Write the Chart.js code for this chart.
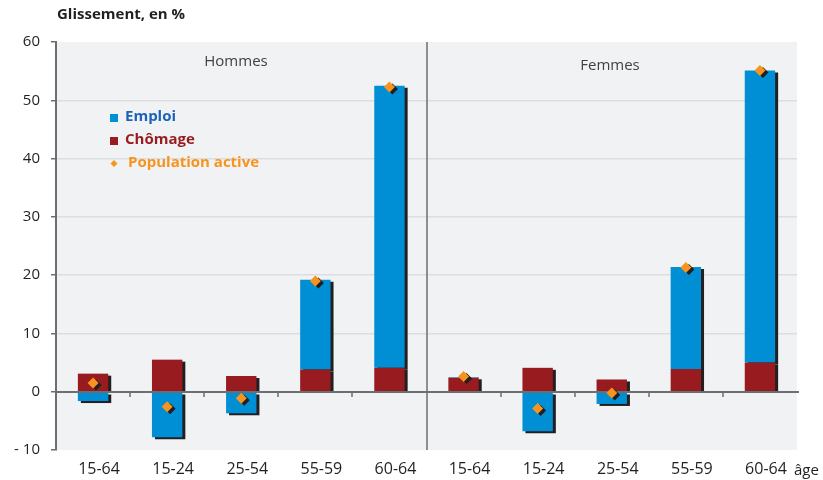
<!DOCTYPE html>
<html>
<head>
<meta charset="utf-8">
<script src="https://cdn.jsdelivr.net/npm/chart.js@4.4.1/dist/chart.umd.min.js"></script>
<style>
  html, body { margin: 0; padding: 0; background: #fff; }
  #wrap { width: 823px; height: 480px; position: relative; }
</style>
</head>
<body>
<div id="wrap"><canvas id="chart"></canvas></div>
<script>
const categories = ['15-64', '15-24', '25-54', '55-59', '60-64', '15-64', '15-24', '25-54', '55-59', '60-64'];
const chomage = [3.1, 5.5, 2.7, 3.8, 4.1, 2.4, 4.1, 2.1, 3.9, 5.0];
const emploi = [-1.6, -7.8, -3.7, 15.4, 48.4, 0.1, -6.8, -2.1, 17.5, 50.1];
const population = [1.5, -2.6, -1.1, 19.0, 52.3, 2.6, -2.9, -0.2, 21.3, 55.1];
const groups = ['Hommes', 'Femmes'];
const yTicks = [-10, 0, 10, 20, 30, 40, 50, 60];

const colors = {
    emploi: '#008fd5',
    chomage: '#971b1f',
    pop: '#f7941d',
    shadow: '#231f20',
    axis: '#6d6e71',
    grid: '#dcdde0',
    plotBg: '#f1f2f4',
    text: '#231f20'
};
const FONT = "'Open Sans', 'Noto Sans', sans-serif";

/* ─── plot background, shadows, zero line, divider, labels ─── */
const decorPlugin = {
    id: 'decor',
    beforeDraw(chart) {
        const { ctx, chartArea: a } = chart;
        ctx.save();
        ctx.fillStyle = colors.plotBg;
        ctx.fillRect(a.left, a.top, a.right - a.left, a.bottom - a.top);
        ctx.restore();
    },
    beforeDatasetsDraw(chart) {
        const ctx = chart.ctx;
        ctx.save();
        ctx.shadowColor = colors.shadow;
        ctx.shadowOffsetX = 3;
        ctx.shadowOffsetY = 2;
        ctx.shadowBlur = 0;
    },
    afterDatasetDraw(chart, args) {
        // zero line goes over the bars but under the diamonds
        if (args.index !== 0) return;
        const { ctx, chartArea: a, scales } = chart;
        const x = scales.x, y = scales.y;
        ctx.save();
        ctx.shadowColor = 'transparent';
        const y0 = Math.round(y.getPixelForValue(0));
        ctx.strokeStyle = colors.axis;
        ctx.lineWidth = 2;
        ctx.beginPath();
        ctx.moveTo(a.left, y0);
        ctx.lineTo(a.right + 2, y0);
        ctx.stroke();
        ctx.lineWidth = 1.5;
        for (let i = 0; i < categories.length - 1; i++) {
            if (i === 4) continue;
            const tx = Math.round((x.getPixelForValue(i) + x.getPixelForValue(i + 1)) / 2);
            ctx.beginPath();
            ctx.moveTo(tx, y0);
            ctx.lineTo(tx, y0 + 5);
            ctx.stroke();
        }
        ctx.restore();
    },
    afterDatasetsDraw(chart) {
        const { ctx, chartArea: a, scales } = chart;
        ctx.restore();
        const x = scales.x;
        ctx.save();
        // divider between Hommes and Femmes
        const dx = Math.round((x.getPixelForValue(4) + x.getPixelForValue(5)) / 2);
        ctx.strokeStyle = colors.axis;
        ctx.lineWidth = 1.5;
        ctx.beginPath();
        ctx.moveTo(dx, a.top);
        ctx.lineTo(dx, a.bottom);
        ctx.stroke();

        // group titles
        ctx.fillStyle = '#414042';
        ctx.font = '15px ' + FONT;
        ctx.textAlign = 'center';
        ctx.textBaseline = 'middle';
        ctx.fillText(groups[0], 236, 62);
        ctx.fillText(groups[1], 610, 66);

        // legend
        const items = [
            { label: 'Emploi', color: '#1c63b7', box: colors.emploi, shape: 'square', y: 117 },
            { label: 'Chômage', color: colors.chomage, box: colors.chomage, shape: 'square', y: 140 },
            { label: 'Population active', color: colors.pop, box: colors.pop, shape: 'diamond', y: 163 }
        ];
        ctx.font = 'bold 15px ' + FONT;
        ctx.textAlign = 'left';
        items.forEach(it => {
            ctx.fillStyle = it.box;
            if (it.shape === 'square') {
                ctx.fillRect(110, it.y - 3, 8, 8);
            } else {
                ctx.beginPath();
                ctx.moveTo(114, it.y - 3);
                ctx.lineTo(117.5, it.y + 0.5);
                ctx.lineTo(114, it.y + 4);
                ctx.lineTo(110.5, it.y + 0.5);
                ctx.closePath();
                ctx.fill();
            }
            ctx.fillStyle = it.color;
            ctx.fillText(it.label, it.shape === 'square' ? 125 : 128, it.y);
        });

        // title and axis unit
        ctx.fillStyle = colors.text;
        ctx.font = 'bold 15px ' + FONT;
        ctx.fillText('Glissement, en %', 57, 15);
        ctx.font = '15px ' + FONT;
        ctx.textBaseline = 'alphabetic';
        ctx.fillText('âge', 794, 475);
        ctx.restore();
    }
};

new Chart(document.getElementById('chart'), {
    type: 'bar',
    data: {
        labels: categories,
        datasets: [
            {
                label: 'Chômage',
                data: chomage,
                backgroundColor: colors.chomage,
                stack: 'bars',
                barPercentage: 0.82,
                categoryPercentage: 0.5,
                order: 1
            },
            {
                label: 'Emploi',
                data: emploi,
                backgroundColor: colors.emploi,
                stack: 'bars',
                barPercentage: 0.82,
                categoryPercentage: 0.5,
                order: 2
            },
            {
                type: 'line',
                label: 'Population active',
                data: population,
                stack: 'pop',
                showLine: false,
                pointStyle: 'rectRot',
                pointRadius: 5.5,
                pointBackgroundColor: colors.pop,
                pointBorderWidth: 0,
                order: 0
            }
        ]
    },
    options: {
        responsive: true,
        maintainAspectRatio: false,
        animation: false,
        devicePixelRatio: 1,
        layout: { padding: { left: 0, right: 26, top: 42, bottom: 0 } },
        plugins: {
            legend: { display: false },
            tooltip: { enabled: false }
        },
        scales: {
            x: {
                stacked: true,
                grid: { display: false, drawTicks: false },
                border: { display: false },
                ticks: {
                    color: colors.text,
                    font: { family: FONT, size: 16 },
                    padding: 10,
                    labelOffset: 6,
                    maxRotation: 0
                },
                afterFit(scale) { scale.height = 30; }
            },
            y: {
                stacked: true,
                min: -10,
                max: 60,
                afterBuildTicks(scale) { scale.ticks = yTicks.map(v => ({ value: v })); },
                grid: {
                    color: ctx => (ctx.tick && (ctx.tick.value === 0 || ctx.tick.value === 60 || ctx.tick.value === -10)) ? 'rgba(0,0,0,0)' : colors.grid,
                    lineWidth: 1.5,
                    tickColor: colors.axis,
                    tickLength: 5,
                    drawTicks: true
                },
                border: { display: true, color: colors.axis, width: 2 },
                ticks: {
                    color: colors.text,
                    font: { family: FONT, size: 15 },
                    padding: 11,
                    callback: v => v < 0 ? '- ' + Math.abs(v) : String(v)
                },
                afterFit(scale) { scale.width = 56; }
            }
        }
    },
    plugins: [decorPlugin]
});
</script>
</body>
</html>
